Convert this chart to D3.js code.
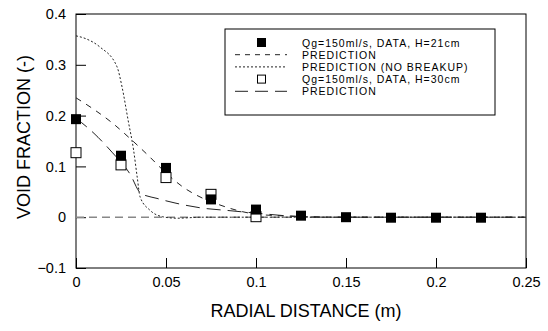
<!DOCTYPE html>
<html>
<head>
<meta charset="utf-8">
<script src="https://cdn.jsdelivr.net/npm/d3@7"></script>
<style>
  body { margin: 0; background: #fff; }
  text { font-family: "Liberation Sans", Arial, sans-serif; fill: #000; }
</style>
</head>
<body>
<script>
// data
var xData = [0, 0.025, 0.05, 0.075, 0.1, 0.125, 0.15, 0.175, 0.2, 0.225];
var h21Data = [0.193, 0.121, 0.097, 0.035, 0.015, 0.003, 0.0, -0.001, -0.001, -0.001];
var x30Data = [0, 0.025, 0.05, 0.075, 0.1];
var h30Data = [0.127, 0.103, 0.078, 0.045, 0.001];

var predX = [0, 0.01, 0.02, 0.03, 0.04, 0.05, 0.06, 0.07, 0.08, 0.09, 0.1, 0.12, 0.15, 0.25];
var pred21 = [0.235, 0.212, 0.186, 0.155, 0.122, 0.087, 0.058, 0.038, 0.024, 0.013, 0.006, 0.002, 0, 0];

var noBrkX = [0, 0.005, 0.0133, 0.0228, 0.0256, 0.029, 0.032, 0.034, 0.0356, 0.041, 0.048, 0.056, 0.07, 0.1, 0.25];
var noBrk = [0.357, 0.352, 0.335, 0.296, 0.256, 0.19, 0.132, 0.079, 0.04, 0.014, 0.001, -0.002, 0, 0, 0];

var pred30X = [0, 0.01, 0.02, 0.03, 0.036, 0.045, 0.055, 0.07, 0.085, 0.1, 0.12, 0.14, 0.25];
var pred30 = [0.195, 0.165, 0.128, 0.085, 0.047, 0.037, 0.028, 0.018, 0.013, 0.008, 0.002, 0, 0];

var xTicks = [0, 0.05, 0.1, 0.15, 0.2, 0.25];
var yTicks = [-0.1, 0, 0.1, 0.2, 0.3, 0.4];
var legendLabels = ["Qg=150ml/s, DATA, H=21cm", "PREDICTION", "PREDICTION (NO BREAKUP)",
                    "Qg=150ml/s, DATA, H=30cm", "PREDICTION"];

var W = 548, H = 331;
var margin = {top: 14, right: 22, bottom: 63, left: 76};
var width = W - margin.left - margin.right,
    height = H - margin.top - margin.bottom;

var svg = d3.select("body").append("svg")
  .attr("width", W)
  .attr("height", H);

var g = svg.append("g")
  .attr("transform", "translate(" + margin.left + "," + margin.top + ")");

var x = d3.scaleLinear().domain([0, 0.25]).range([0, width]);
var y = d3.scaleLinear().domain([-0.1, 0.4]).range([height, 0]);

// frame
g.append("rect")
  .attr("width", width)
  .attr("height", height)
  .attr("fill", "none")
  .attr("stroke", "#000")
  .attr("stroke-width", 1);

// axes with inward ticks
var xAxis = d3.axisBottom(x).tickValues(xTicks).tickSize(-10).tickPadding(9)
  .tickFormat(function(d) { return d3.format("")(+d.toFixed(2)); });
var yAxis = d3.axisLeft(y).tickValues(yTicks).tickSize(-10).tickPadding(10)
  .tickFormat(function(d) { return d3.format("")(+d.toFixed(1)); });

g.append("g")
  .attr("transform", "translate(0," + height + ")")
  .call(xAxis)
  .call(function(s) {
    s.select(".domain").remove();
    s.selectAll("text").style("font-size", "14.5px").style("font-family", "Liberation Sans, Arial, sans-serif");
  });

g.append("g")
  .call(yAxis)
  .call(function(s) {
    s.select(".domain").remove();
    s.selectAll("text").style("font-size", "14.5px").style("font-family", "Liberation Sans, Arial, sans-serif");
  });

// zero reference
g.append("line")
  .attr("x1", 0).attr("x2", width)
  .attr("y1", y(0)).attr("y2", y(0))
  .attr("stroke", "#888")
  .attr("stroke-width", 1.5)
  .attr("stroke-dasharray", "8,5");

function curve(xs, ys) {
  return d3.line()
    .x(function(d, i) { return x(xs[i]); })
    .y(function(d) { return y(d); })
    .curve(d3.curveMonotoneX)(ys);
}

g.append("path")
  .attr("d", curve(predX, pred21))
  .attr("fill", "none").attr("stroke", "#222").attr("stroke-width", 1)
  .attr("stroke-dasharray", "6,6");

g.append("path")
  .attr("d", curve(noBrkX, noBrk))
  .attr("fill", "none").attr("stroke", "#222").attr("stroke-width", 1)
  .attr("stroke-dasharray", "2,2");

g.append("path")
  .attr("d", curve(pred30X, pred30))
  .attr("fill", "none").attr("stroke", "#222").attr("stroke-width", 1)
  .attr("stroke-dasharray", "14,7");

var sq = 10;
g.selectAll(".open")
  .data(h30Data)
  .enter().append("rect")
  .attr("class", "open")
  .attr("x", function(d, i) { return x(x30Data[i]) - sq / 2; })
  .attr("y", function(d) { return y(d) - sq / 2; })
  .attr("width", sq).attr("height", sq)
  .attr("fill", "#fff").attr("stroke", "#000");

g.selectAll(".filled")
  .data(h21Data)
  .enter().append("rect")
  .attr("class", "filled")
  .attr("x", function(d, i) { return x(xData[i]) - sq / 2; })
  .attr("y", function(d) { return y(d) - sq / 2; })
  .attr("width", sq).attr("height", sq)
  .attr("fill", "#000");

// legend
var lg = svg.append("g").attr("transform", "translate(225,29)");
lg.append("rect")
  .attr("width", 270).attr("height", 86)
  .attr("fill", "#fff").attr("stroke", "#000");

var rowY = [13.5, 25.7, 37.9, 50.1, 62.3];
lg.selectAll(".lt")
  .data(legendLabels)
  .enter().append("text")
  .attr("x", 77)
  .attr("y", function(d, i) { return rowY[i] + 4; })
  .style("font-size", "10.5px")
  .style("letter-spacing", "1px")
  .text(function(d) { return d; });

lg.append("rect").attr("x", 32).attr("y", rowY[0] - 4.5).attr("width", 9).attr("height", 9).attr("fill", "#000");
lg.append("rect").attr("x", 32.5).attr("y", rowY[3] - 4).attr("width", 8).attr("height", 8)
  .attr("fill", "#fff").attr("stroke", "#000");
lg.append("line").attr("x1", 10).attr("x2", 62).attr("y1", rowY[1]).attr("y2", rowY[1])
  .attr("stroke", "#222").attr("stroke-dasharray", "5,5");
lg.append("line").attr("x1", 10).attr("x2", 62).attr("y1", rowY[2]).attr("y2", rowY[2])
  .attr("stroke", "#222").attr("stroke-dasharray", "2,2");
lg.append("line").attr("x1", 10).attr("x2", 62).attr("y1", rowY[4]).attr("y2", rowY[4])
  .attr("stroke", "#222").attr("stroke-dasharray", "13,7");

// axis titles
svg.append("text")
  .attr("x", 306)
  .attr("y", 317)
  .attr("text-anchor", "middle")
  .style("font-size", "18px")
  .text("RADIAL DISTANCE (m)");

svg.append("text")
  .attr("transform", "translate(30,137) rotate(-90)")
  .attr("text-anchor", "middle")
  .style("font-size", "18px")
  .text("VOID FRACTION (-)");
</script>
</body>
</html>
